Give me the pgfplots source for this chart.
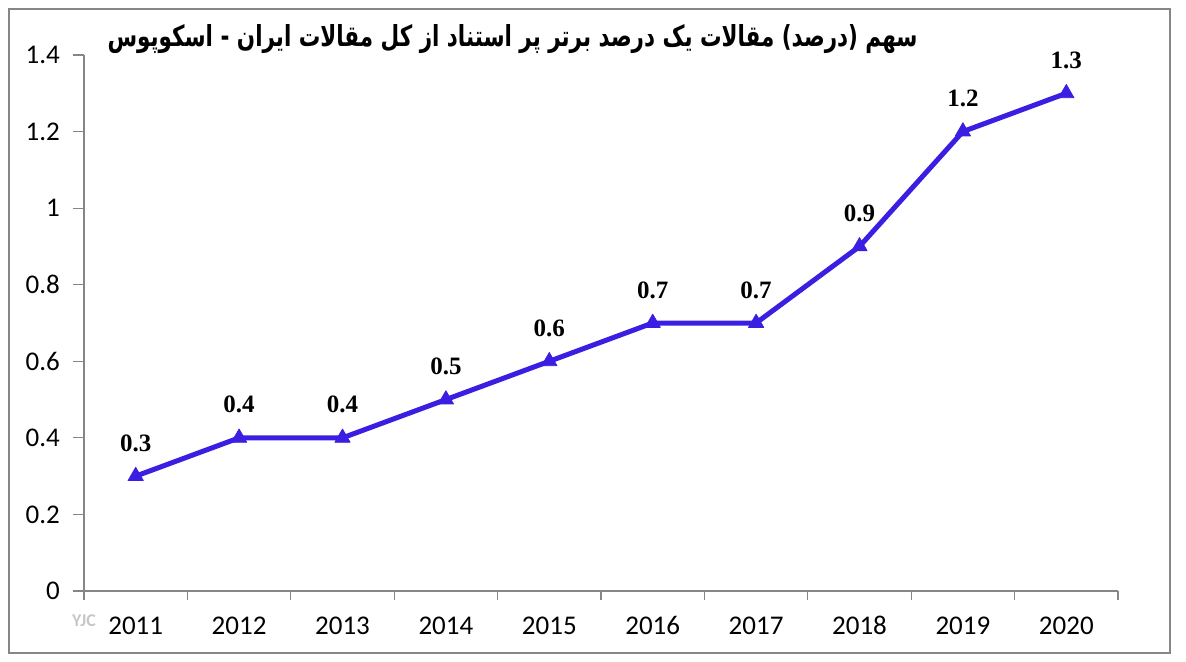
\documentclass[border=0pt]{standalone}
\usepackage{graphicx}
\usepackage{pgfplots}
\pgfplotsset{compat=1.18}
\usepackage{fontspec}
\setmainfont{Carlito}
\newfontfamily\lblfont{Liberation Serif}
\newfontfamily\fafont[Script=Arabic]{DejaVu Sans}
\TeXXeTstate=1
\definecolor{lineblue}{RGB}{58,30,226}
\definecolor{axgray}{RGB}{134,134,134}

\begin{document}
\begin{tikzpicture}
  % 1 px of the reference = 0.5pt
  \path[use as bounding box] (0,0) rectangle (593pt,-331pt);
  \draw[axgray, line width=0.6pt] (4.5pt,-4.5pt) rectangle (585pt,-326.5pt);
  \begin{axis}[
    at={(42pt,-295.5pt)}, anchor=south west,
    scale only axis, width=517pt, height=268pt,
    xmin=-0.5, xmax=9.5, ymin=0, ymax=1.4,
    axis x line*=bottom, axis y line*=left,
    axis line style={axgray, line width=0.6pt},
    xtick={0,...,9},
    xticklabels={2011,2012,2013,2014,2015,2016,2017,2018,2019,2020},
    minor xtick={-0.5,0.5,...,9.5},
    ytick={0,0.2,0.4,0.6,0.8,1,1.2,1.4},
    yticklabels={0,0.2,0.4,0.6,0.8,1,1.2,1.4},
    tick align=outside,
    major tick length=5.5pt, minor tick length=4.5pt,
    tick style={axgray, line width=0.6pt},
    major x tick style={draw=none},
    every tick label/.append style={font=\fontsize{13.5}{16}\selectfont, text=black},
    xticklabel style={yshift=-3.5pt, text height=9pt, text depth=0pt},
    yticklabel style={xshift=-3pt},
    clip=false,
    nodes near coords,
    nodes near coords style={font=\lblfont\bfseries\fontsize{12.5}{15}\selectfont,
      anchor=center, yshift=16.5pt, text=black,
      /pgf/number format/.cd, fixed, precision=1, assume math mode=true},
  ]
    \addplot[lineblue, line width=2.5pt, line join=round,
      mark=triangle*, mark size=4.4pt, mark options={solid, line width=0.4pt}]
      coordinates {(0,0.3) (1,0.4) (2,0.4) (3,0.5) (4,0.6)
                   (5,0.7) (6,0.7) (7,0.9) (8,1.2) (9,1.3)};
  \end{axis}
  \node[anchor=east, inner sep=0pt] at (459pt,-19.5pt)
    {\scalebox{1}[1.35]{\resizebox{405pt}{!}{\fafont\bfseries\beginR سهم (درصد) مقالات یک درصد برتر پر استناد از کل مقالات ایران - اسکوپوس\endR}}};
  \node[text=black!22, font=\bfseries\fontsize{9}{10}\selectfont, inner sep=0pt] at (42pt,-310.5pt) {YJC};
\end{tikzpicture}
\end{document}
